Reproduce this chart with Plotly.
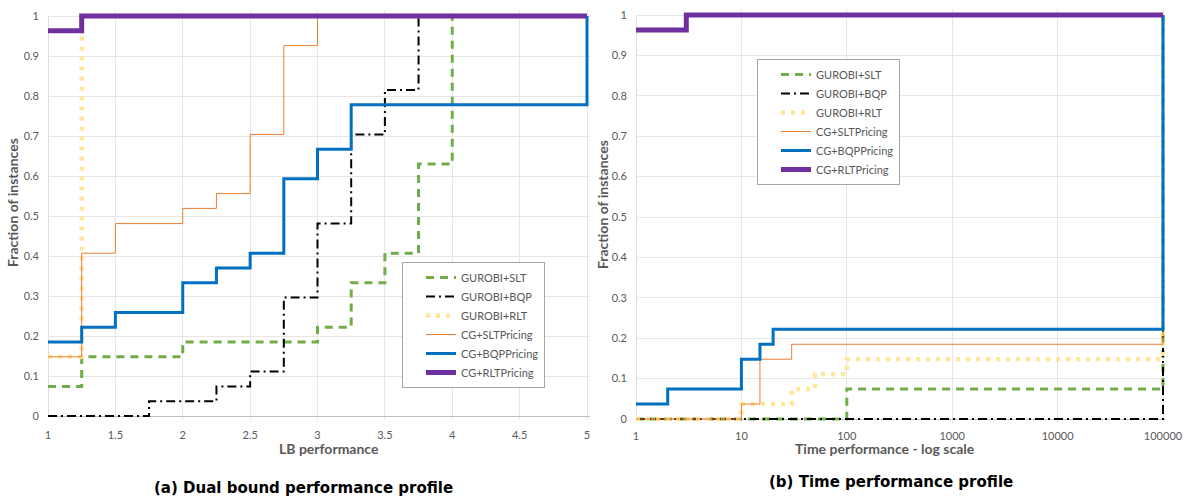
import plotly.graph_objects as go

# ---------------- data: (a) dual bound performance profile ----------------
lb_gurobi_slt_x = [1, 1.25, 2, 3, 3.25, 3.5, 3.75, 4, 5]
lb_gurobi_slt_y = [0.074, 0.148, 0.185, 0.222, 0.333, 0.407, 0.630, 1, 1]
lb_gurobi_bqp_x = [1, 1.75, 2.25, 2.5, 2.75, 3, 3.25, 3.5, 3.75, 5]
lb_gurobi_bqp_y = [0, 0.037, 0.074, 0.111, 0.296, 0.481, 0.704, 0.815, 1, 1]
lb_gurobi_rlt_x = [1, 1.25, 5]
lb_gurobi_rlt_y = [0.148, 1, 1]
lb_cg_slt_x = [1, 1.25, 1.5, 2, 2.25, 2.5, 2.75, 3, 5]
lb_cg_slt_y = [0.148, 0.407, 0.481, 0.519, 0.556, 0.704, 0.926, 1, 1]
lb_cg_bqp_x = [1, 1.25, 1.5, 2, 2.25, 2.5, 2.75, 3, 3.25, 5, 5]
lb_cg_bqp_y = [0.185, 0.222, 0.259, 0.333, 0.370, 0.407, 0.593, 0.667, 0.778, 0.778, 1]
lb_cg_rlt_x = [1, 1.25, 5]
lb_cg_rlt_y = [0.963, 1, 1]

# ---------------- data: (b) time performance profile ----------------
t_gurobi_slt_x = [1, 100, 100000, 100000]
t_gurobi_slt_y = [0, 0.074, 0.074, 1]
t_gurobi_bqp_x = [1, 100000, 100000]
t_gurobi_bqp_y = [0, 0, 1]
t_gurobi_rlt_x = [1, 10, 30, 50, 100, 100000, 100000]
t_gurobi_rlt_y = [0, 0.037, 0.074, 0.111, 0.148, 0.148, 1]
t_cg_slt_x = [1, 10, 15, 30, 100000, 100000]
t_cg_slt_y = [0, 0.037, 0.148, 0.185, 0.185, 1]
t_cg_bqp_x = [1, 2, 10, 15, 20, 100000, 100000]
t_cg_bqp_y = [0.037, 0.074, 0.148, 0.185, 0.222, 0.222, 1]
t_cg_rlt_x = [1, 3, 100000]
t_cg_rlt_y = [0.963, 1, 1]

names = ["GUROBI+SLT", "GUROBI+BQP", "GUROBI+RLT",
         "CG+SLTPricing", "CG+BQPPricing", "CG+RLTPricing"]

y_ticks = [0, 0.1, 0.2, 0.3, 0.4, 0.5, 0.6, 0.7, 0.8, 0.9, 1]
y_ticktext = ["0", "0.1", "0.2", "0.3", "0.4", "0.5", "0.6", "0.7", "0.8", "0.9", "1"]
lb_ticks = [1, 1.5, 2, 2.5, 3, 3.5, 4, 4.5, 5]
lb_ticktext = ["1", "1.5", "2", "2.5", "3", "3.5", "4", "4.5", "5"]
t_ticks = [1, 10, 100, 1000, 10000, 100000]
t_ticktext = ["1", "10", "100", "1000", "10000", "100000"]

# ---------------- styles ----------------
styles = [
    dict(color="#70AD47", width=3, dash="8px,6px"),
    dict(color="#000000", width=2, dash="9px,4px,2px,4px"),
    dict(color="#FFE699", width=4.5, dash="4px,6px"),
    dict(color="#ED7D31", width=1),
    dict(color="#0070C0", width=3),
    dict(color="#7030A0", width=5),
]

W, H = 1186, 502
fig = go.Figure()

lb_series = [(lb_gurobi_slt_x, lb_gurobi_slt_y), (lb_gurobi_bqp_x, lb_gurobi_bqp_y),
             (lb_gurobi_rlt_x, lb_gurobi_rlt_y), (lb_cg_slt_x, lb_cg_slt_y),
             (lb_cg_bqp_x, lb_cg_bqp_y), (lb_cg_rlt_x, lb_cg_rlt_y)]
t_series = [(t_gurobi_slt_x, t_gurobi_slt_y), (t_gurobi_bqp_x, t_gurobi_bqp_y),
            (t_gurobi_rlt_x, t_gurobi_rlt_y), (t_cg_slt_x, t_cg_slt_y),
            (t_cg_bqp_x, t_cg_bqp_y), (t_cg_rlt_x, t_cg_rlt_y)]

for (x, y), name, st in zip(lb_series, names, styles):
    fig.add_trace(go.Scatter(x=x, y=y, mode="lines", name=name, line=dict(shape="hv", **st),
                             xaxis="x", yaxis="y", legend="legend"))
for (x, y), name, st in zip(t_series, names, styles):
    fig.add_trace(go.Scatter(x=x, y=y, mode="lines", name=name, line=dict(shape="hv", **st),
                             xaxis="x2", yaxis="y2", legend="legend2"))

# pixel geometry -> paper domains
def xdom(p0, p1):
    return [p0 / W, p1 / W]

def ydom(ptop, pbot):
    return [1 - pbot / H, 1 - ptop / H]

# left panel: y=0 at 416px, y=1 at 16px ; x=1 at 48px, x=5 at 587px
ypad_lo, ypad_hi = 0.01, 0.015
ly_top = 16 - ypad_hi * 400
ly_bot = 416 + ypad_lo * 400
lxpx = (587 - 48) / 4.0
lx_hi_pad = 0.02
# right panel: y=0 at 419px, y=1 at 15px ; log x: 1 at 636, 1e5 at 1163
ry_unit = 419 - 15
ry_top = 15 - ypad_hi * ry_unit
ry_bot = 419 + ypad_lo * ry_unit
rdec = (1163 - 636) / 5.0
rx_hi_pad = 0.02

grid = "#E6E6E6"
axcol = "#BFBFBF"
tickfont = dict(family="Lato", size=11, color="#595959")
legfont = dict(family="Lato", size=11, color="#595959")

fig.update_layout(
    width=W, height=H,
    margin=dict(l=0, r=0, t=0, b=0, autoexpand=False),
    paper_bgcolor="white", plot_bgcolor="white",
    font=dict(family="Lato", color="#595959"),
    xaxis=dict(domain=xdom(48, 587 + lx_hi_pad * lxpx), range=[1, 5 + lx_hi_pad],
               tickvals=lb_ticks, ticktext=lb_ticktext, tickfont=tickfont,
               showgrid=True, gridcolor=grid, zeroline=False, showline=False,
               ticks="", anchor="y", automargin=False, ticklabelstandoff=7),
    yaxis=dict(domain=ydom(ly_top, ly_bot), range=[-ypad_lo, 1 + ypad_hi],
               tickvals=y_ticks, ticktext=y_ticktext, tickfont=tickfont,
               showgrid=True, gridcolor=grid, zeroline=True, zerolinecolor=axcol,
               zerolinewidth=1, showline=False, ticks="", anchor="x", automargin=False,
               ticklabelstandoff=8),
    xaxis2=dict(domain=xdom(636, 1163 + rx_hi_pad * rdec), type="log",
                range=[0, 5 + rx_hi_pad],
                tickvals=t_ticks, ticktext=t_ticktext, tickfont=tickfont,
                showgrid=True, gridcolor=grid, zeroline=False, showline=False,
                ticks="", anchor="y2", automargin=False, ticklabelstandoff=5),
    yaxis2=dict(domain=ydom(ry_top, ry_bot), range=[-ypad_lo, 1 + ypad_hi],
                tickvals=y_ticks, ticktext=y_ticktext, tickfont=tickfont,
                showgrid=True, gridcolor=grid, zeroline=True, zerolinecolor=axcol,
                zerolinewidth=1, showline=False, ticks="", anchor="x2", automargin=False,
                ticklabelstandoff=8),
    legend=dict(x=402 / W, y=1 - 262 / H, xanchor="left", yanchor="top",
                bgcolor="white", bordercolor="#A6A6A6", borderwidth=1,
                font=legfont, tracegroupgap=0, indentation=18, itemwidth=30,
                entrywidth=168, entrywidthmode="pixels"),
    legend2=dict(x=757 / W, y=1 - 59 / H, xanchor="left", yanchor="top",
                 bgcolor="white", bordercolor="#A6A6A6", borderwidth=1,
                 font=legfont, tracegroupgap=0, indentation=18, itemwidth=30,
                 entrywidth=160, entrywidthmode="pixels"),
    showlegend=True,
)

# left y-axis lines (at x = 1)
fig.add_shape(type="line", xref="x", yref="y", x0=1, x1=1, y0=0, y1=1,
              line=dict(color=axcol, width=1), layer="below")
fig.add_shape(type="line", xref="x2", yref="y2", x0=1, x1=1, y0=0, y1=1,
              line=dict(color=axcol, width=1), layer="below")

ann = []
title_font = dict(family="Lato", size=14, color="#595959")
ann.append(dict(text="<b>Fraction of instances</b>", x=12 / W, y=1 - 203 / H, xref="paper",
                yref="paper", xanchor="center", yanchor="middle", textangle=-90,
                showarrow=False, font=title_font))
ann.append(dict(text="<b>Fraction of instances</b>", x=602 / W, y=1 - 205 / H, xref="paper",
                yref="paper", xanchor="center", yanchor="middle", textangle=-90,
                showarrow=False, font=title_font))
ann.append(dict(text="<b>LB performance</b>", x=329 / W, y=1 - 448 / H, xref="paper",
                yref="paper", xanchor="center", yanchor="middle", showarrow=False,
                font=title_font))
ann.append(dict(text="<b>Time performance - log scale</b>", x=885 / W, y=1 - 448 / H,
                xref="paper", yref="paper", xanchor="center", yanchor="middle",
                showarrow=False, font=title_font))
cap_font = dict(family="DejaVu Sans", size=15, color="#000000")
ann.append(dict(text="<b>(a) Dual bound performance profile</b>", x=152 / W, y=1 - 488 / H,
                xref="paper", yref="paper", xanchor="left", yanchor="middle",
                showarrow=False, font=cap_font))
ann.append(dict(text="<b>(b) Time performance profile</b>", x=767 / W, y=1 - 482 / H,
                xref="paper", yref="paper", xanchor="left", yanchor="middle",
                showarrow=False, font=cap_font))
fig.update_layout(annotations=ann)

fig.write_html("out.html", config={"displayModeBar": False},
               post_script="document.body.style.margin='0';document.body.style.overflow='hidden';")
